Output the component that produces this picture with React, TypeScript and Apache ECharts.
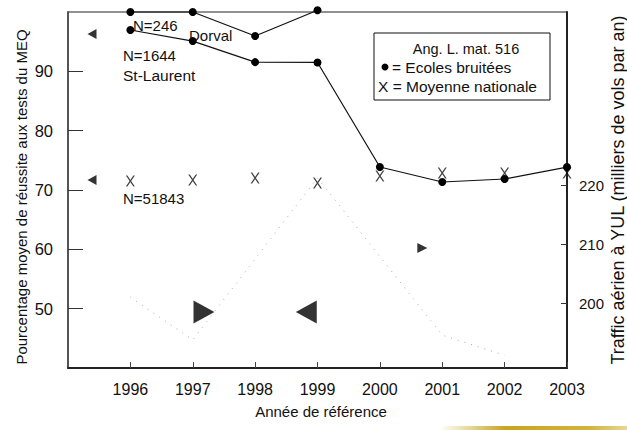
import React, { useEffect, useRef } from "react";
import * as echarts from "echarts";

const FONT = "'Liberation Sans', Arial, sans-serif";

const years = [1996, 1997, 1998, 1999, 2000, 2001, 2002, 2003];
const dorval = [100.0, 100.0, 95.95, 100.3, null, null, null, null];
const stLaurent = [96.97, 95.1, 91.55, 91.5, 73.87, 71.35, 71.85, 73.87];
const nationale = [71.52, 71.68, 72.02, 71.18, 72.36, 72.86, 72.86, 72.86];

const trafficYears = [1996, 1997, 1999, 2001, 2002];
const trafficValues = [201.1, 193.9, 221.2, 194.7, 191.3];

const rightTickValues = [200, 210, 220];

// pointer triangles: [x (year), y (%)]
const pointLeftSmall = [[1995.385, 96.29], [1995.385, 71.68]];
const pointLeftBig = [[1998.82, 49.44]];
const pointRightBig = [[1997.18, 49.44]];
const pointRightSmall = [[2000.68, 60.22]];

const X_PATH = "path://M0,0 L1.7,0 L10,12 L8.3,12 Z M8.3,0 L10,0 L1.7,12 L0,12 Z";
const TRI_LEFT = "path://M0,5 L10,0 L10,10 Z";
const TRI_RIGHT = "path://M0,0 L10,5 L0,10 Z";

export default function App() {
  const ref = useRef<HTMLDivElement>(null);
  useEffect(() => {
    if (!ref.current) return;
    const chart = echarts.init(ref.current, null, { renderer: "svg" });
    const pair = (vals: (number | null)[]) =>
      years.map((y, i) => [y, vals[i]]).filter((p) => p[1] !== null);
    const txt = (text: string, x: number, y: number, size: number, align = "left", rotation = 0) => ({
      type: "text",
      x,
      y,
      rotation,
      style: { text, fontSize: size, fontFamily: FONT, fill: "#111", textAlign: align, textVerticalAlign: "middle" },
    });
    chart.setOption({
      animation: false,
      grid: {
        left: 68,
        right: 60,
        top: 12,
        bottom: 62,
        show: true,
        borderColor: "#222",
        borderWidth: 1,
        containLabel: false,
        outerBoundsMode: "none",
      },
      xAxis: {
        type: "value",
        min: 1995,
        max: 2003,
        interval: 1,
        axisLine: { show: true, onZero: false, lineStyle: { color: "#222", width: 2 } },
        axisTick: { show: true, inside: true, length: 6, lineStyle: { color: "#444" } },
        axisLabel: { showMinLabel: false, margin: 13, fontSize: 16, color: "#111", fontFamily: FONT, formatter: (v: number) => String(v) },
        splitLine: { show: false },
      },
      yAxis: [
        {
          type: "value",
          min: 40,
          max: 100,
          interval: 10,
          position: "left",
          axisLine: { show: true, lineStyle: { color: "#555", width: 2 } },
          axisTick: { show: true, inside: true, length: 15, lineStyle: { color: "#333" } },
          axisLabel: {
            showMinLabel: false,
            showMaxLabel: false,
            margin: 15,
            fontSize: 16.5,
            color: "#111",
            fontFamily: FONT,
            padding: [0, 0, 6, 0],
          },
          splitLine: { show: false },
        },
        {
          type: "value",
          min: 189.16,
          max: 249.16,
          position: "right",
          axisLine: { show: true, lineStyle: { color: "#222", width: 2 } },
          axisTick: { show: true, inside: true, length: 6, customValues: rightTickValues, lineStyle: { color: "#333" } },
          axisLabel: {
            customValues: rightTickValues,
            margin: 12,
            fontSize: 15,
            color: "#111",
            fontFamily: FONT,
            padding: [0, 0, 6, 0],
          },
          splitLine: { show: false },
        },
      ],
      series: [
        {
          type: "line",
          yAxisIndex: 1,
          data: trafficYears.map((y, i) => [y, trafficValues[i]]),
          symbol: "none",
          lineStyle: { color: "#aaa", width: 1, type: [1, 6] },
          silent: true,
          z: 1,
        },
        {
          name: "Dorval",
          type: "line",
          data: pair(dorval),
          clip: false,
          symbol: "circle",
          symbolSize: 8,
          itemStyle: { color: "#000" },
          lineStyle: { color: "#111", width: 1.2 },
          z: 5,
        },
        {
          name: "St-Laurent",
          type: "line",
          data: pair(stLaurent),
          clip: false,
          symbol: "circle",
          symbolSize: 8,
          itemStyle: { color: "#000" },
          lineStyle: { color: "#111", width: 1.2 },
          z: 5,
        },
        {
          name: "Moyenne nationale",
          type: "scatter",
          data: pair(nationale),
          symbol: X_PATH,
          symbolSize: [9, 11],
          itemStyle: { color: "#111" },
          clip: false,
          z: 4,
        },
        { type: "scatter", data: pointLeftSmall, symbol: TRI_LEFT, symbolSize: [9, 10], itemStyle: { color: "#000" } },
        { type: "scatter", data: pointLeftBig, symbol: TRI_LEFT, symbolSize: [21, 23], itemStyle: { color: "#000" } },
        { type: "scatter", data: pointRightBig, symbol: TRI_RIGHT, symbolSize: [21, 23], itemStyle: { color: "#000" } },
        { type: "scatter", data: pointRightSmall, symbol: TRI_RIGHT, symbolSize: [10, 10], itemStyle: { color: "#000" } },
      ],
      graphic: [
        txt("Année de référence", 321, 411, 15, "center"),
        txt("Pourcentage moyen de réussite aux tests du MEQ", 21, 197, 15, "center", Math.PI / 2),
        txt("Traffic aérien à YUL (milliers de vols par an)", 618, 190, 18, "center", Math.PI / 2),
        txt("N=246", 133, 25, 15),
        txt("Dorval", 189, 35, 15),
        txt("N=1644", 123, 55, 15),
        txt("St-Laurent", 123, 75, 15.5),
        txt("N=51843", 123, 198, 15),
        {
          type: "rect",
          shape: { x: 374, y: 33, width: 176, height: 67 },
          style: { fill: "#fff", stroke: "#111", lineWidth: 1 },
          z: 10,
        },
        { ...txt("Ang. L. mat. 516", 466, 49, 14.5, "center"), z: 11 },
        { type: "circle", shape: { cx: 385, cy: 67, r: 3.5 }, style: { fill: "#000" }, z: 11 },
        { ...txt("= Ecoles bruitées", 392, 67, 15.5), z: 11 },
        { ...txt("X = Moyenne nationale", 378, 86, 15.5), z: 11 },
        {
          type: "rect",
          shape: { x: 440, y: 426, width: 187, height: 4 },
          style: {
            fill: new echarts.graphic.LinearGradient(0, 0, 1, 0, [
              { offset: 0, color: "rgba(200,165,30,0)" },
              { offset: 0.35, color: "rgba(200,165,30,1)" },
              { offset: 0.8, color: "rgba(210,180,60,1)" },
              { offset: 1, color: "rgba(230,215,150,1)" },
            ]),
          },
          z: 11,
        },
      ],
    });
    return () => chart.dispose();
  }, []);
  return (
    <div
      ref={ref}
      style={{ position: "fixed", left: 0, top: 0, width: 627, height: 430, background: "#fff" }}
    />
  );
}
